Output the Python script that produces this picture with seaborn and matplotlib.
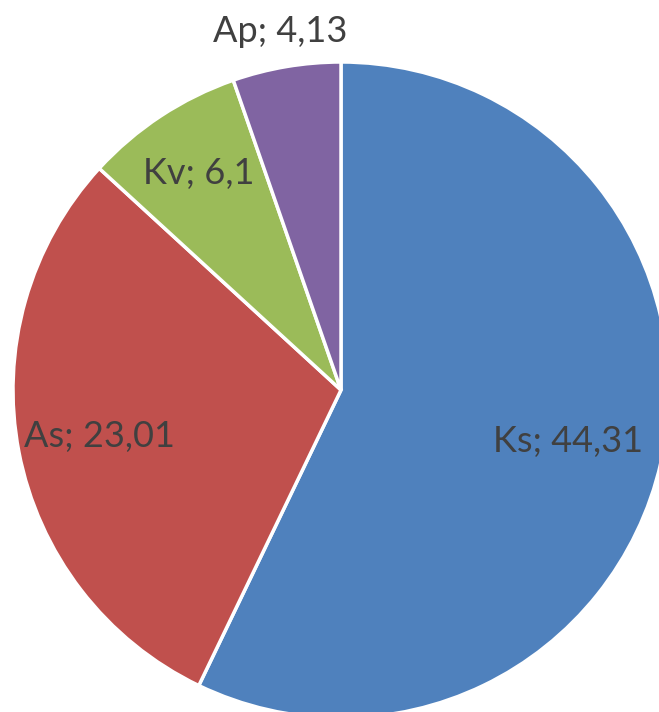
import numpy as np
import matplotlib
matplotlib.use("Agg")
import matplotlib.pyplot as plt
import seaborn as sns

# data
labels = ["Ks", "As", "Kv", "Ap"]
values = [44.31, 23.01, 6.1, 4.13]
value_text = ["44,31", "23,01", "6,1", "4,13"]

colors = ["#4F81BD", "#C0504D", "#9BBB59", "#8064A2"]
label_dist = [0.71, 0.75, 0.79, 1.11]


def main():
    sns.set_style("white")
    plt.rcParams["font.family"] = ["Lato", "DejaVu Sans"]

    fig = plt.figure(figsize=(6.59, 7.12), dpi=100)
    ax = fig.add_axes([0, 0, 1, 1])
    ax.axis("off")

    wedges, _ = ax.pie(values, colors=colors, startangle=90, counterclock=False,
                       radius=1.0,
                       wedgeprops=dict(edgecolor="white", linewidth=2.5))

    # place labels at the middle angle of each wedge
    for w, lab, txt, d in zip(wedges, labels, value_text, label_dist):
        ang = np.deg2rad((w.theta1 + w.theta2) / 2)
        ax.text(d * np.cos(ang), d * np.sin(ang), f"{lab}; {txt}",
                ha="center", va="center", fontsize=26, color="#404040")

    # pie centre at (341, 390) px from top-left, radius 328 px
    r = 328.0
    cx, cy = 341.0, 390.0
    ax.set_xlim(-cx / r, (659 - cx) / r)
    ax.set_ylim(-(712 - cy) / r, cy / r)
    ax.set_aspect("equal")

    fig.savefig("out.png", dpi=100)
    plt.close(fig)


if __name__ == "__main__":
    main()
